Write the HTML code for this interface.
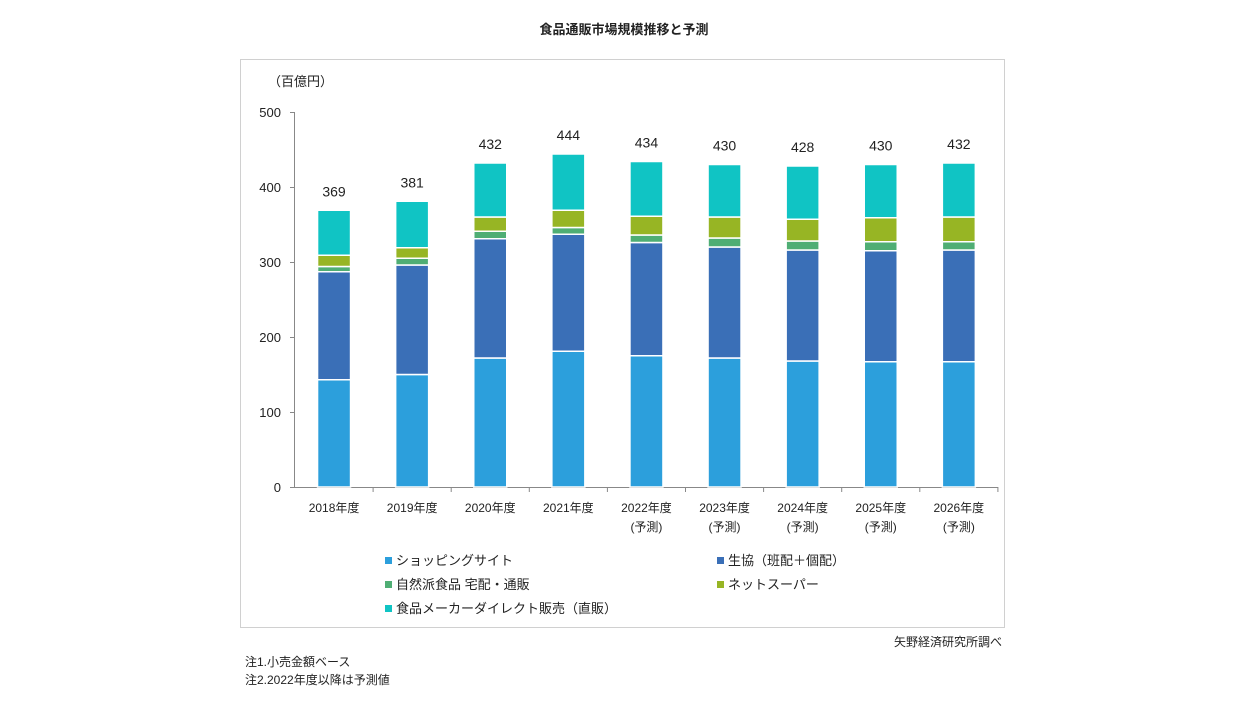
<!DOCTYPE html>
<html><head><meta charset="utf-8"><style>
body{margin:0;background:#fff;width:1248px;height:702px;overflow:hidden;font-family:"Liberation Sans","Noto Sans CJK JP",sans-serif;}
svg text{font-family:"Liberation Sans","Noto Sans CJK JP",sans-serif;}
</style></head><body>
<svg width="1248" height="702">
<text x="624" y="34" text-anchor="middle" font-size="13" font-weight="bold" fill="#222">食品通販市場規模推移と予測</text>
<rect x="240.5" y="59.5" width="764" height="568" fill="none" stroke="#d0d0d0"/>
<text x="268" y="86" font-size="13" fill="#222">（百億円）</text>
<g id="axes"></g>
<g id="bars"></g>
<g id="legend"></g>
<text x="1002" y="646" text-anchor="end" font-size="12" fill="#222">矢野経済研究所調べ</text>
<text x="245" y="666" font-size="12" fill="#222">注1.小売金額ベース</text>
<text x="245" y="684" font-size="12" fill="#222">注2.2022年度以降は予測値</text>
</svg>
<script>
const categories=["2018年度","2019年度","2020年度","2021年度","2022年度","2023年度","2024年度","2025年度","2026年度"];
const forecast=[false,false,false,false,true,true,true,true,true];
const shopping=[143,150,172,181,175,172,168,167,167];
const coop=[144,146,159,156,151,148,148,148,149];
const natural=[7,9,10,9,10,12,12,12,11];
const netSuper=[15,14,19,23,25,28,29,32,33];
const maker=[60,62,72,75,73,70,71,71,72];
const totals=[369,381,432,444,434,430,428,430,432];
const yTicks=[0,100,200,300,400,500];
const seriesNames=["ショッピングサイト","生協（班配＋個配）","自然派食品 宅配・通販","ネットスーパー","食品メーカーダイレクト販売（直販）"];
const series=[shopping,coop,natural,netSuper,maker];
const colors=["#2c9fdc","#3a6fb7","#4fae74","#97b524","#10c4c4"];
const NS="http://www.w3.org/2000/svg";
const y0=487,ppu=0.75,x0=295,step=78.1,bw=33;
const Y=v=>y0-v*ppu, X=i=>x0+step*(i+0.5);
function mk(t,a,p){const e=document.createElementNS(NS,t);for(const k in a)e.setAttribute(k,a[k]);p.appendChild(e);return e;}
const ax=document.getElementById('axes');
yTicks.forEach(t=>{
 const tk=mk('line',{x1:290,x2:295,y1:Y(t)+.5,y2:Y(t)+.5,stroke:'#888'},ax);
 
 
 const l=mk('text',{x:281,y:Y(t)+5,'text-anchor':'end','font-size':13,fill:'#222'},ax);l.textContent=t;
 
 
});
const ya=mk('line',{x1:294.5,x2:294.5,y1:Y(500),y2:y0,stroke:'#888'},ax);


const xa=mk('line',{x1:294,x2:x0+step*categories.length,y1:y0+.5,y2:y0+.5,stroke:'#888'},ax);


const bg=document.getElementById('bars');
categories.forEach((c,i)=>{
 const tk=mk('line',{x1:x0+step*(i+1),x2:x0+step*(i+1),y1:y0,y2:y0+5,stroke:'#888'},ax);
 
 
 const l=mk('text',{x:X(i),y:512,'text-anchor':'middle','font-size':12,fill:'#222'},ax);l.textContent=c;
 
 
 if(forecast[i]){const f=mk('text',{x:X(i),y:531,'text-anchor':'middle','font-size':12,fill:'#222'},ax);f.textContent='(予測)';
 
 }
 let acc=0;
 series.forEach((s,k)=>{
  const r=mk('rect',{x:X(i)-bw/2,y:Y(acc+s[i]),width:bw,height:s[i]*ppu,fill:colors[k],stroke:'#fff','stroke-width':1.5},bg);
  
  
  acc+=s[i];
 });
 const t=mk('text',{x:X(i),y:Y(totals[i])-14,'text-anchor':'middle','font-size':14,fill:'#222'},bg);t.textContent=totals[i];
 
 
});
const lg=document.getElementById('legend');
const lpos=[[388,561],[720,561],[388,585],[720,585],[388,609]];
seriesNames.forEach((n,k)=>{
 const g=mk('g',{},lg);
 
 
 mk('rect',{x:lpos[k][0]-3,y:lpos[k][1]-4,width:7,height:7,fill:colors[k]},g);
 const t=mk('text',{x:lpos[k][0]+8,y:lpos[k][1]+4,'font-size':13,fill:'#222'},g);t.textContent=n;
});
</script>
</body></html>
